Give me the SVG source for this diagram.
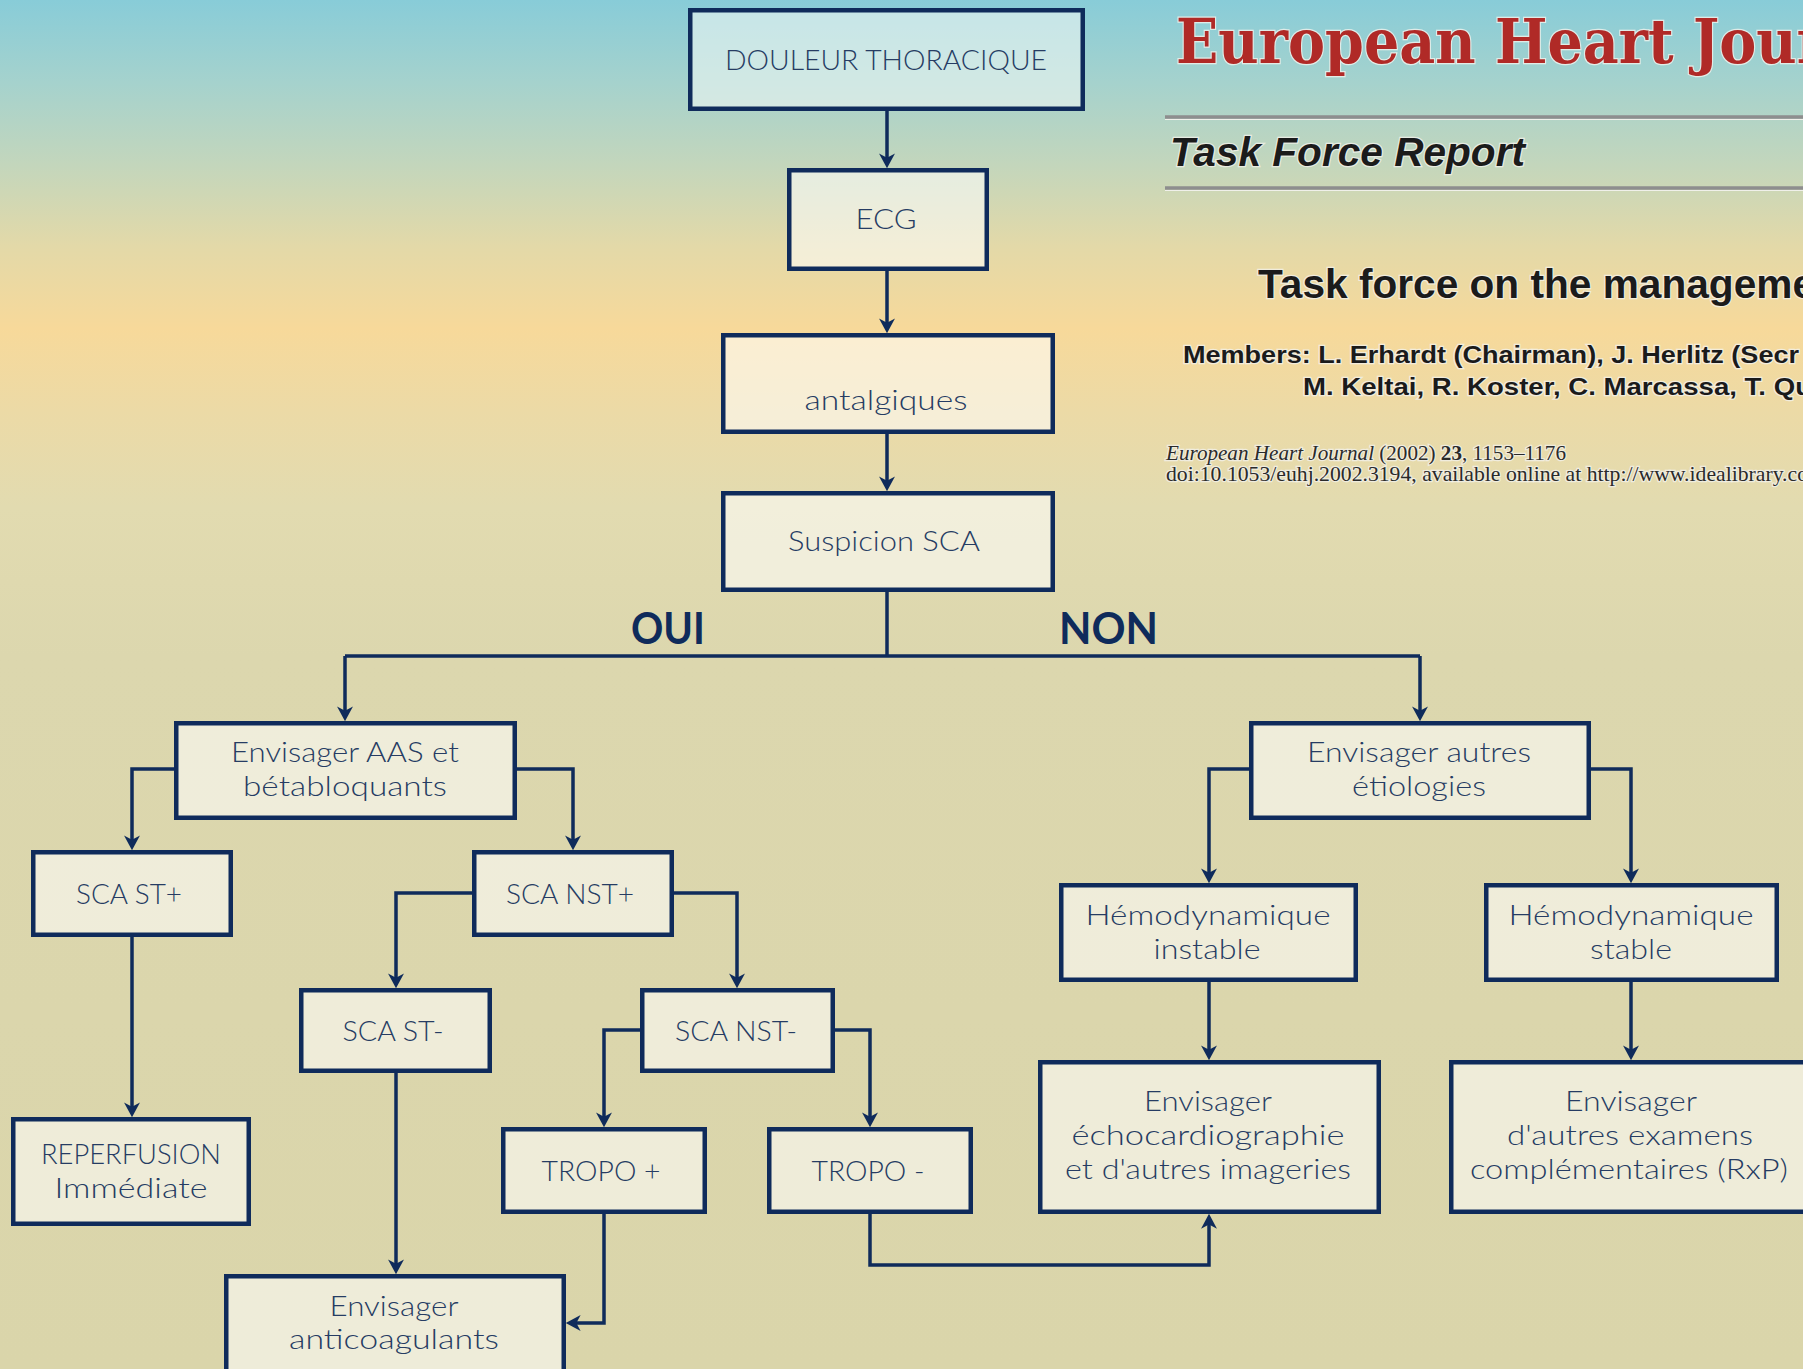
<svg xmlns="http://www.w3.org/2000/svg" width="1803" height="1369" viewBox="0 0 1803 1369">
  <defs>
    <linearGradient id="bg" gradientUnits="userSpaceOnUse" x1="0" y1="0" x2="0" y2="1369">
      <stop offset="0" stop-color="#88ccd8"/>
      <stop offset="0.06" stop-color="#a5d2cd"/>
      <stop offset="0.12" stop-color="#c3d6bc"/>
      <stop offset="0.18" stop-color="#e3d9a8"/>
      <stop offset="0.24" stop-color="#f7d99a"/>
      <stop offset="0.30" stop-color="#ecdaa6"/>
      <stop offset="0.37" stop-color="#e2dbb0"/>
      <stop offset="0.48" stop-color="#dcd7ae"/>
      <stop offset="1" stop-color="#dad5aa"/>
    </linearGradient>
    <marker id="arrow" viewBox="0 0 16 16" refX="11" refY="8" markerWidth="17" markerHeight="17" markerUnits="userSpaceOnUse" orient="auto">
      <path d="M1,0.5 L15,8 L1,15.5 L5,8 Z" fill="#0f2b5b"/>
    </marker>
    <style>
      .box { fill: #ffffff; fill-opacity: 0.55; stroke: #0f2b5b; stroke-width: 4.5; }
      .lbl { font-family: Lato, "Open Sans", "Liberation Sans", sans-serif; font-weight: 300; font-size: 28px; fill: #263c63; text-anchor: middle; }
      .branch { font-family: Lato, "Liberation Sans", sans-serif; font-weight: 700; font-size: 44px; fill: #0f2b5b; }
      .wire { fill: none; stroke: #0f2b5b; stroke-width: 3.5; stroke-linejoin: miter; }
      .halo { paint-order: stroke; stroke: #f3f2ec; stroke-opacity: 0.8; stroke-width: 2.5; }
      .sans { font-family: "Liberation Sans", Arial, sans-serif; font-weight: 700; fill: #1b1b1b; }
      .cite { font-family: "Liberation Serif", "Times New Roman", serif; font-size: 21px; fill: #2a2a2a; }
      .rule { stroke: #8e8e8e; stroke-width: 3.5; }
      .rulehi { stroke: #f0f0ea; stroke-width: 1.2; }
    </style>
  </defs>

  <!-- background -->
  <rect x="0" y="0" width="1803" height="1369" fill="url(#bg)"/>

  <!-- journal header, top right -->
  <g id="header">
    <text x="1176" y="63" font-family="'DejaVu Serif', 'Liberation Serif', serif" font-weight="700" font-size="62" fill="#b02a27" class="halo" textLength="650" lengthAdjust="spacingAndGlyphs">European Heart Jour</text>
    <line class="rule" x1="1165" y1="117" x2="1803" y2="117"/>
    <line class="rulehi" x1="1165" y1="119.5" x2="1803" y2="119.5"/>
    <text x="1170" y="166" class="sans halo" font-style="italic" font-size="40" textLength="355" lengthAdjust="spacingAndGlyphs">Task Force Report</text>
    <line class="rule" x1="1165" y1="188" x2="1803" y2="188"/>
    <line class="rulehi" x1="1165" y1="190.5" x2="1803" y2="190.5"/>
    <text x="1258" y="298" class="sans halo" font-size="41" textLength="557" lengthAdjust="spacingAndGlyphs">Task force on the manageme</text>
    <text x="1183" y="363" class="sans halo" font-size="24" textLength="616" lengthAdjust="spacingAndGlyphs">Members: L. Erhardt (Chairman), J. Herlitz (Secr</text>
    <text x="1303" y="395" class="sans halo" font-size="24" textLength="509" lengthAdjust="spacingAndGlyphs">M. Keltai, R. Koster, C. Marcassa, T. Qu</text>
    <text x="1166" y="460" class="cite halo" textLength="400" lengthAdjust="spacingAndGlyphs"><tspan font-style="italic">European Heart Journal</tspan> (2002) <tspan font-weight="700">23</tspan>, 1153–1176</text>
    <text x="1166" y="481" class="cite halo" textLength="642" lengthAdjust="spacingAndGlyphs">doi:10.1053/euhj.2002.3194, available online at http://www.idealibrary.co</text>
  </g>

  <!-- connectors -->
  <g id="connectors">
    <path class="wire" d="M887,111 V164" marker-end="url(#arrow)"/>
    <path class="wire" d="M887,271 V329" marker-end="url(#arrow)"/>
    <path class="wire" d="M887,434 V487" marker-end="url(#arrow)"/>
    <path class="wire" d="M887,592 V656"/>
    <path class="wire" d="M345,656 H1420"/>
    <path class="wire" d="M345,656 V717" marker-end="url(#arrow)"/>
    <path class="wire" d="M1420,656 V717" marker-end="url(#arrow)"/>
    <path class="wire" d="M174,769 H132 V846" marker-end="url(#arrow)"/>
    <path class="wire" d="M517,769 H573 V846" marker-end="url(#arrow)"/>
    <path class="wire" d="M472,893 H396 V984" marker-end="url(#arrow)"/>
    <path class="wire" d="M674,893 H737 V984" marker-end="url(#arrow)"/>
    <path class="wire" d="M132,937 V1113" marker-end="url(#arrow)"/>
    <path class="wire" d="M396,1073 V1270" marker-end="url(#arrow)"/>
    <path class="wire" d="M640,1030 H604 V1123" marker-end="url(#arrow)"/>
    <path class="wire" d="M835,1030 H870 V1123" marker-end="url(#arrow)"/>
    <path class="wire" d="M604,1214 V1323 H570" marker-end="url(#arrow)"/>
    <path class="wire" d="M870,1214 V1265 H1209 V1218" marker-end="url(#arrow)"/>
    <path class="wire" d="M1249,769 H1209 V879" marker-end="url(#arrow)"/>
    <path class="wire" d="M1591,769 H1631 V879" marker-end="url(#arrow)"/>
    <path class="wire" d="M1209,982 V1056" marker-end="url(#arrow)"/>
    <path class="wire" d="M1631,982 V1056" marker-end="url(#arrow)"/>
  </g>

  <!-- OUI / NON branch labels -->
  <g id="branch-labels">
    <text class="branch" x="631" y="644" textLength="74" lengthAdjust="spacingAndGlyphs">OUI</text>
    <text class="branch" x="1059" y="644" textLength="99" lengthAdjust="spacingAndGlyphs">NON</text>
  </g>

  <!-- nodes -->
  <g id="douleur">
    <rect class="box" x="690.25" y="10.25" width="392.5" height="98.5" style="fill:#eef6f4;fill-opacity:0.6"/>
    <text class="lbl" x="886" y="70" textLength="322" lengthAdjust="spacingAndGlyphs">DOULEUR THORACIQUE</text>
  </g>
  <g id="ecg">
    <rect class="box" x="789.25" y="170.25" width="197.5" height="98.5"/>
    <text class="lbl" x="886" y="229" textLength="61" lengthAdjust="spacingAndGlyphs">ECG</text>
  </g>
  <g id="antalgiques">
    <rect class="box" x="723.25" y="335.25" width="329.5" height="96.5"/>
    <text class="lbl" x="886" y="410" textLength="163" lengthAdjust="spacingAndGlyphs">antalgiques</text>
  </g>
  <g id="suspicion">
    <rect class="box" x="723.25" y="493.25" width="329.5" height="96.5"/>
    <text class="lbl" x="884" y="551" textLength="192" lengthAdjust="spacingAndGlyphs">Suspicion SCA</text>
  </g>
  <g id="aas">
    <rect class="box" x="176.25" y="723.25" width="338.5" height="94.5"/>
    <text class="lbl" x="345" y="762" textLength="228" lengthAdjust="spacingAndGlyphs">Envisager AAS et</text>
    <text class="lbl" x="345" y="796" textLength="204" lengthAdjust="spacingAndGlyphs">bétabloquants</text>
  </g>
  <g id="autres-etiologies">
    <rect class="box" x="1251.25" y="723.25" width="337.5" height="94.5"/>
    <text class="lbl" x="1419" y="762" textLength="224" lengthAdjust="spacingAndGlyphs">Envisager autres</text>
    <text class="lbl" x="1419" y="796" textLength="134" lengthAdjust="spacingAndGlyphs">étiologies</text>
  </g>
  <g id="sca-st-plus">
    <rect class="box" x="33.25" y="852.25" width="197.5" height="82.5"/>
    <text class="lbl" x="129" y="904" textLength="106" lengthAdjust="spacingAndGlyphs">SCA ST+</text>
  </g>
  <g id="sca-nst-plus">
    <rect class="box" x="474.25" y="852.25" width="197.5" height="82.5"/>
    <text class="lbl" x="570" y="904" textLength="128" lengthAdjust="spacingAndGlyphs">SCA NST+</text>
  </g>
  <g id="sca-st-minus">
    <rect class="box" x="301.25" y="990.25" width="188.5" height="80.5"/>
    <text class="lbl" x="393" y="1041" textLength="101" lengthAdjust="spacingAndGlyphs">SCA ST-</text>
  </g>
  <g id="sca-nst-minus">
    <rect class="box" x="642.25" y="990.25" width="190.5" height="80.5"/>
    <text class="lbl" x="736" y="1041" textLength="122" lengthAdjust="spacingAndGlyphs">SCA NST-</text>
  </g>
  <g id="reperfusion">
    <rect class="box" x="13.25" y="1119.25" width="235.5" height="104.5"/>
    <text class="lbl" x="131" y="1164" textLength="180" lengthAdjust="spacingAndGlyphs">REPERFUSION</text>
    <text class="lbl" x="131" y="1198" textLength="153" lengthAdjust="spacingAndGlyphs">Immédiate</text>
  </g>
  <g id="tropo-plus">
    <rect class="box" x="503.25" y="1129.25" width="201.5" height="82.5"/>
    <text class="lbl" x="601" y="1181" textLength="119" lengthAdjust="spacingAndGlyphs">TROPO +</text>
  </g>
  <g id="tropo-minus">
    <rect class="box" x="769.25" y="1129.25" width="201.5" height="82.5"/>
    <text class="lbl" x="868" y="1181" textLength="113" lengthAdjust="spacingAndGlyphs">TROPO -</text>
  </g>
  <g id="anticoagulants">
    <rect class="box" x="226.25" y="1276.25" width="337.5" height="130"/>
    <text class="lbl" x="394" y="1316" textLength="129" lengthAdjust="spacingAndGlyphs">Envisager</text>
    <text class="lbl" x="394" y="1349" textLength="210" lengthAdjust="spacingAndGlyphs">anticoagulants</text>
  </g>
  <g id="hemo-instable">
    <rect class="box" x="1061.25" y="885.25" width="294.5" height="94.5"/>
    <text class="lbl" x="1208" y="925" textLength="245" lengthAdjust="spacingAndGlyphs">Hémodynamique</text>
    <text class="lbl" x="1207" y="959" textLength="107" lengthAdjust="spacingAndGlyphs">instable</text>
  </g>
  <g id="hemo-stable">
    <rect class="box" x="1486.25" y="885.25" width="290.5" height="94.5"/>
    <text class="lbl" x="1631" y="925" textLength="245" lengthAdjust="spacingAndGlyphs">Hémodynamique</text>
    <text class="lbl" x="1631" y="959" textLength="82" lengthAdjust="spacingAndGlyphs">stable</text>
  </g>
  <g id="echocardiographie">
    <rect class="box" x="1040.25" y="1062.25" width="338.5" height="149.5"/>
    <text class="lbl" x="1208" y="1111" textLength="128" lengthAdjust="spacingAndGlyphs">Envisager</text>
    <text class="lbl" x="1208" y="1145" textLength="273" lengthAdjust="spacingAndGlyphs">échocardiographie</text>
    <text class="lbl" x="1208" y="1179" textLength="286" lengthAdjust="spacingAndGlyphs">et d'autres imageries</text>
  </g>
  <g id="autres-examens">
    <rect class="box" x="1451.25" y="1062.25" width="380" height="149.5"/>
    <text class="lbl" x="1631" y="1111" textLength="132" lengthAdjust="spacingAndGlyphs">Envisager</text>
    <text class="lbl" x="1630" y="1145" textLength="246" lengthAdjust="spacingAndGlyphs">d'autres examens</text>
    <text class="lbl" x="1629" y="1179" textLength="318" lengthAdjust="spacingAndGlyphs">complémentaires (RxP)</text>
  </g>
</svg>
